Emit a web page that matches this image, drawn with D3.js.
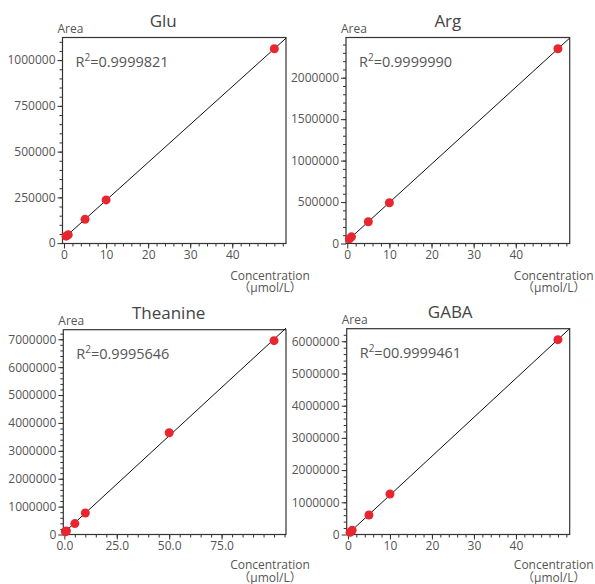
<!DOCTYPE html>
<html>
<head>
<meta charset="utf-8">
<script src="https://cdn.jsdelivr.net/npm/d3@7"></script>
<style>
  body { margin: 0; background: #fff; }
  text { font-family: "Open Sans", "Noto Sans CJK JP", sans-serif; font-weight: 400; }
</style>
</head>
<body>
<div id="chart"></div>
<script>
// calibration curves, values

const titles = ["Glu", "Arg", "Theanine", "GABA"];
const r2Values = ["0.9999821", "0.9999990", "0.9995646", "00.9999461"];

const concStd = [0.5, 1, 5, 10, 50];
const concTheanine = [0.5, 1, 5, 10, 50, 100];

const gluArea = [38000, 46000, 130000, 236000, 1062000];
const argArea = [56000, 80000, 262000, 492000, 2349000];
const theanineArea = [100000, 125000, 390000, 770000, 3650000, 6950000];
const gabaArea = [68000, 130000, 606000, 1258000, 6050000];

const xTicksStd = [0, 10, 20, 30, 40];
const xTicksTheanine = [0, 25, 50, 75];
const gluYTicks = [0, 250000, 500000, 750000, 1000000];
const argYTicks = [0, 500000, 1000000, 1500000, 2000000];
const theanineYTicks = [0, 1000000, 2000000, 3000000, 4000000, 5000000, 6000000, 7000000];
const gabaYTicks = [0, 1000000, 2000000, 3000000, 4000000, 5000000, 6000000];

// layout of each panel (box in px, axis domains, minor tick steps)
const panels = [
  {x: concStd, y: gluArea, xt: xTicksStd, yt: gluYTicks, xDom: [-0.36, 52.77], yDom: [-2000, 1123500],
   box: [62.5, 37.5, 286, 243.5], xMinor: 2, yMinor: 50000, xFmt: d3.format("d"), titleDx: -11, labDy: 36},
  {x: concStd, y: argArea, xt: xTicksStd, yt: argYTicks, xDom: [-0.3, 52.8], yDom: [0, 2485000],
   box: [346, 37.5, 569.7, 243.5], xMinor: 2, yMinor: 100000, xFmt: d3.format("d"), titleDx: -10, labDy: 36},
  {x: concTheanine, y: theanineArea, xt: xTicksTheanine, yt: theanineYTicks, xDom: [-0.5, 105.7], yDom: [0, 7343000],
   box: [63.3, 329.7, 286, 534.5], xMinor: 5, yMinor: 200000, xFmt: d3.format(".1f"), titleDx: -6, labDy: 34.5},
  {x: concStd, y: gabaArea, xt: xTicksStd, yt: gabaYTicks, xDom: [-0.3, 52.8], yDom: [0, 6390000],
   box: [346.7, 328.7, 569.7, 534.5], xMinor: 2, yMinor: 200000, xFmt: d3.format("d"), titleDx: -8, labDy: 34.5}
];

const svg = d3.select("#chart")
  .append("svg")
    .attr("width", 595)
    .attr("height", 584);

// least squares fit
function fit(xs, ys) {
  const mx = d3.mean(xs), my = d3.mean(ys);
  let sxy = 0, sxx = 0;
  xs.forEach((x, i) => { sxy += (x - mx) * (ys[i] - my); sxx += (x - mx) * (x - mx); });
  const b = sxy / sxx;
  return {b: b, a: my - b * mx};
}

panels.forEach((p, i) => {
  const [x0, y0, x1, y1] = p.box;
  const g = svg.append("g");

  const x = d3.scaleLinear().domain(p.xDom).range([x0, x1]);
  const y = d3.scaleLinear().domain(p.yDom).range([y1, y0]);

  // minor ticks
  const xMinorTicks = d3.range(p.xMinor, p.xDom[1], p.xMinor);
  const yMinorTicks = d3.range(p.yMinor, p.yDom[1], p.yMinor);

  g.append("g")
    .attr("transform", `translate(0,${y1})`)
    .call(d3.axisBottom(x).tickValues(xMinorTicks).tickSize(3).tickFormat(""))
    .call(a => a.select(".domain").remove())
    .selectAll("line").attr("stroke", "#333");

  g.append("g")
    .attr("transform", `translate(${x0},0)`)
    .call(d3.axisLeft(y).tickValues(yMinorTicks).tickSize(3).tickFormat(""))
    .call(a => a.select(".domain").remove())
    .selectAll("line").attr("stroke", "#333");

  // major ticks
  const xa = g.append("g")
    .attr("transform", `translate(0,${y1})`)
    .call(d3.axisBottom(x).tickValues(p.xt).tickSize(5).tickPadding(2).tickFormat(p.xFmt));
  xa.select(".domain").remove();
  xa.selectAll("line").attr("stroke", "#333");
  xa.selectAll("text")
    .attr("fill", "#555")
    .style("font-size", "12px");

  const ya = g.append("g")
    .attr("transform", `translate(${x0},0)`)
    .call(d3.axisLeft(y).tickValues(p.yt).tickSize(5).tickPadding(2).tickFormat(d3.format("d")));
  ya.select(".domain").remove();
  ya.selectAll("line").attr("stroke", "#333");
  ya.selectAll("text")
    .attr("fill", "#555")
    .style("font-size", "12px");

  // frame
  g.append("rect")
    .attr("x", x0).attr("y", y0)
    .attr("width", x1 - x0).attr("height", y1 - y0)
    .attr("fill", "none")
    .attr("stroke", "#333")
    .attr("stroke-width", 1.2);

  // regression line
  const f = fit(p.x, p.y);
  const lx = [0, p.xDom[1]];
  g.append("path")
    .attr("d", d3.line().x(d => x(d)).y(d => y(f.a + f.b * d))(lx))
    .attr("fill", "none")
    .attr("stroke", "#111")
    .attr("stroke-width", 1);

  // points
  g.selectAll("circle")
    .data(p.x.map((d, k) => ({c: d, a: p.y[k]})))
    .join("circle")
      .attr("cx", d => x(d.c))
      .attr("cy", d => y(d.a))
      .attr("r", 4.5)
      .attr("fill", "#e8262f");

  // title
  g.append("text")
    .attr("x", (x0 + x1) / 2 + p.titleDx)
    .attr("y", y0 - 11)
    .attr("text-anchor", "middle")
    .attr("fill", "#444")
    .style("font-size", "17px")
    .text(titles[i]);

  // y label
  g.append("text")
    .attr("x", x0 - 5)
    .attr("y", y0 - 4.5)
    .attr("fill", "#555")
    .style("font-size", "12px")
    .text("Area");

  // R2
  const r2 = g.append("text")
    .attr("x", x0 + 13)
    .attr("y", y0 + 29)
    .attr("fill", "#555")
    .style("font-size", "14.5px");
  r2.append("tspan").text("R");
  r2.append("tspan").attr("dy", -6).style("font-size", "10px").text("2");
  r2.append("tspan").attr("dy", 6).text("=" + r2Values[i]);

  // x label, two lines
  g.append("text")
    .attr("x", x1 - 16)
    .attr("y", y1 + p.labDy)
    .attr("text-anchor", "middle")
    .attr("fill", "#555")
    .style("font-size", "12px")
    .text("Concentration");
  g.append("text")
    .attr("x", x1 - 16)
    .attr("y", y1 + p.labDy + 12.5)
    .attr("text-anchor", "middle")
    .attr("fill", "#555")
    .style("font-size", "12px")
    .text("（µmol/L）");
});
</script>
</body>
</html>
